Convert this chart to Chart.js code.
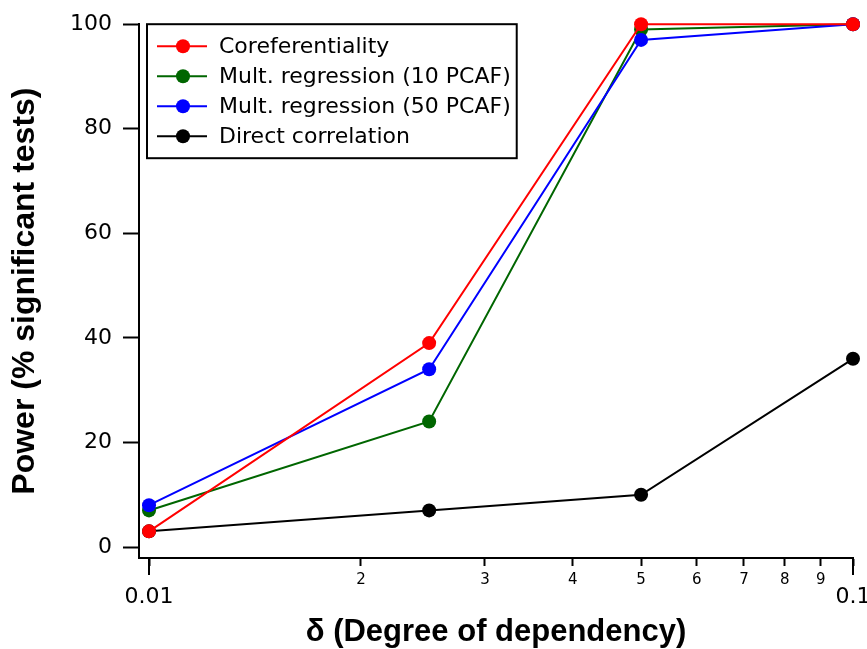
<!DOCTYPE html>
<html>
<head>
<meta charset="utf-8">
<script src="https://cdn.jsdelivr.net/npm/chart.js@4/dist/chart.umd.min.js"></script>
<style>
  html, body { margin: 0; padding: 0; background: #fff; }
</style>
</head>
<body>
<canvas id="powerChart" width="867" height="649"></canvas>
<script>
const deltaValues = [0.01, 0.025, 0.05, 0.1];
const seriesNames = ['Coreferentiality', 'Mult. regression (10 PCAF)', 'Mult. regression (50 PCAF)', 'Direct correlation'];
const coreferentiality = [3, 39, 100, 100];
const multReg10 = [7, 24, 99, 100];
const multReg50 = [8, 34, 97, 100];
const directCorrelation = [3, 7, 10, 36];

const xTicks = [0.01, 0.02, 0.03, 0.04, 0.05, 0.06, 0.07, 0.08, 0.09, 0.1];
const xTickLabels = ['0.01', '2', '3', '4', '5', '6', '7', '8', '9', '0.1'];
const xMajorTicks = [0.01, 0.1];
const yTicks = [0, 20, 40, 60, 80, 100];

const toPoints = vals => deltaValues.map((x, i) => ({ x: x, y: vals[i] }));

const makeSet = (label, vals, color, order) => ({
    label: label,
    data: toPoints(vals),
    borderColor: color,
    backgroundColor: color,
    borderWidth: 2,
    pointRadius: 7,
    pointHoverRadius: 7,
    pointBorderWidth: 0,
    tension: 0,
    clip: false,
    order: order
});

// longer tick marks for the decades on the log axis
const majorTicks = {
    id: 'majorTicks',
    afterDraw(chart) {
        const sx = chart.scales.x;
        const ctx = chart.ctx;
        ctx.save();
        ctx.strokeStyle = '#000';
        ctx.lineWidth = 2;
        xMajorTicks.forEach(v => {
            const px = Math.round(sx.getPixelForValue(v));
            ctx.beginPath();
            ctx.moveTo(px, sx.top);
            ctx.lineTo(px, sx.top + 17);
            ctx.stroke();
        });
        ctx.restore();
    }
};

// boxed legend inside the plot area
const boxLegend = {
    id: 'boxLegend',
    afterDraw(chart) {
        const ctx = chart.ctx;
        const area = chart.chartArea;
        const sets = chart.data.datasets;
        ctx.save();
        ctx.font = '22px "DejaVu Sans"';
        const textW = Math.max(...sets.map(d => ctx.measureText(d.label).width));
        const left = area.left + 8;
        const top = area.top;
        const rowH = 30;
        const w = 72 + textW + 6;
        const h = 44 + rowH * (sets.length - 1);
        ctx.fillStyle = '#fff';
        ctx.fillRect(left, top, w, h);
        ctx.strokeStyle = '#000';
        ctx.lineWidth = 2;
        ctx.strokeRect(left, top, w, h);
        sets.forEach((d, i) => {
            const y = top + 22 + i * rowH;
            ctx.strokeStyle = d.borderColor;
            ctx.lineWidth = 2;
            ctx.beginPath();
            ctx.moveTo(left + 10, y);
            ctx.lineTo(left + 60, y);
            ctx.stroke();
            ctx.fillStyle = d.backgroundColor;
            ctx.beginPath();
            ctx.arc(left + 36, y, d.pointRadius, 0, Math.PI * 2);
            ctx.fill();
            ctx.fillStyle = '#000';
            ctx.textBaseline = 'middle';
            ctx.fillText(d.label, left + 72, y + 1);
        });
        ctx.restore();
    }
};

const ctx = document.getElementById('powerChart').getContext('2d');
const powerChart = new Chart(ctx, {
    type: 'line',
    data: {
        datasets: [
            makeSet(seriesNames[0], coreferentiality, '#ff0000', 0),
            makeSet(seriesNames[1], multReg10, '#006600', 2),
            makeSet(seriesNames[2], multReg50, '#0000ff', 1),
            makeSet(seriesNames[3], directCorrelation, '#000000', 3)
        ]
    },
    options: {
        responsive: false,
        animation: false,
        layout: { padding: { top: 23, right: 14, left: 0, bottom: 0 } },
        plugins: {
            legend: { display: false },
            tooltip: { enabled: false }
        },
        scales: {
            x: {
                type: 'logarithmic',
                min: 0.009678,
                max: 0.1,
                afterBuildTicks: s => {
                    s.ticks = xTicks.map(v => ({ value: v, major: xMajorTicks.includes(v) }));
                },
                afterFit: s => {
                    s.height = 91;
                    s.paddingLeft = 0;
                    s.paddingRight = 0;
                },
                grid: { drawOnChartArea: false, tickLength: 8, tickWidth: 2, tickColor: '#000' },
                border: { color: '#000', width: 2 },
                ticks: {
                    autoSkip: false,
                    maxRotation: 0,
                    minRotation: 0,
                    padding: 5,
                    color: '#000',
                    font: c => (c.tick && xMajorTicks.includes(c.tick.value))
                        ? { family: '"DejaVu Sans"', size: 22, lineHeight: 0.8 }
                        : { family: '"DejaVu Sans"', size: 15, lineHeight: 1.2 },
                    callback: (value, index) => xMajorTicks.includes(xTicks[index])
                        ? ['', xTickLabels[index]]
                        : xTickLabels[index]
                },
                title: {
                    display: true,
                    text: 'δ (Degree of dependency)',
                    color: '#000',
                    font: { family: '"Liberation Sans", Arial, sans-serif', size: 31, weight: 'bold', lineHeight: 1 },
                    padding: { top: 0, bottom: 1.5 }
                }
            },
            y: {
                min: -2.1,
                max: 100,
                afterBuildTicks: s => {
                    s.ticks = yTicks.map(v => ({ value: v }));
                },
                afterFit: s => {
                    s.width = 139;
                },
                grid: { drawOnChartArea: false, tickLength: 16, tickWidth: 2, tickColor: '#000' },
                border: { color: '#000', width: 2 },
                ticks: {
                    padding: 11,
                    color: '#000',
                    font: { family: '"DejaVu Sans"', size: 22 }
                },
                title: {
                    display: true,
                    text: 'Power (% significant tests)',
                    color: '#000',
                    font: { family: '"Liberation Sans", Arial, sans-serif', size: 32, weight: 'bold', lineHeight: 1 },
                    padding: { top: 9, bottom: 0 }
                }
            }
        }
    },
    plugins: [majorTicks, boxLegend]
});
</script>
</body>
</html>
